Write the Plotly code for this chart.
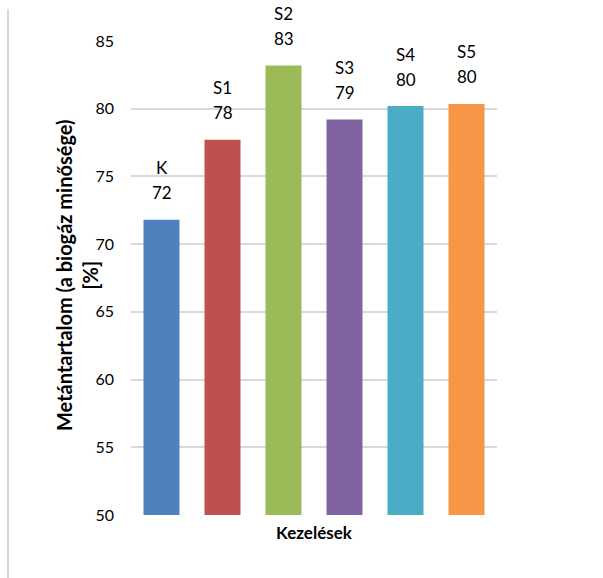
import plotly.graph_objects as go

categories = ["K", "S1", "S2", "S3", "S4", "S5"]
values = [71.8, 77.7, 83.2, 79.2, 80.2, 80.35]
colors = ["#4F81BD", "#C0504D", "#9BBB59", "#8064A2", "#4BACC6", "#F79646"]
y_ticks = [50, 55, 60, 65, 70, 75, 80, 85]

FONT = "Lato, Calibri, Carlito, sans-serif"

fig = go.Figure()
fig.add_trace(go.Bar(
    x=categories, y=values, marker=dict(color=colors, line=dict(width=0)),
    showlegend=False, hoverinfo="skip",
))

for c, v in zip(categories, values):
    fig.add_annotation(
        x=c, y=v, text=f"{round(v):.0f}", showarrow=False,
        yanchor="middle", yshift=27, font=dict(family=FONT, size=17, color="#000000"),
    )
    fig.add_annotation(
        x=c, y=v, text=c, showarrow=False,
        yanchor="middle", yshift=52, font=dict(family=FONT, size=17, color="#000000"),
    )

W, H = 603, 578
L, R, T, B = 131, 497, 41, 515
pw, ph = R - L, B - T

# outer frame (light gray, left edge only visible)
fig.add_shape(type="line", xref="paper", yref="paper",
              x0=(8 - L) / pw, x1=(8 - L) / pw, y0=(B - 9) / ph, y1=(B - 600) / ph,
              line=dict(color="#d9d9d9", width=2))

# y-axis title
fig.add_annotation(
    xref="paper", yref="paper", x=(77 - L) / pw, y=(B - 275) / ph,
    text="<b>Metántartalom (a biogáz minősége)<br>[%]</b>", textangle=-90,
    showarrow=False, xanchor="center", yanchor="middle",
    font=dict(family=FONT, size=20, color="#000000"),
)

fig.update_layout(
    width=W, height=H,
    margin=dict(l=L, r=W - R, t=T, b=H - B, pad=0),
    plot_bgcolor="white", paper_bgcolor="white",
    bargap=0.41,
    font=dict(family=FONT, color="#000000"),
    xaxis=dict(
        showticklabels=False, showgrid=False, zeroline=False, showline=False,
        ticks="",
        title=dict(text="<b>Kezelések</b>", font=dict(family=FONT, size=17), standoff=12),
    ),
    yaxis=dict(
        range=[50, 85], tickvals=y_ticks, showgrid=True, gridcolor="#d9d9d9", gridwidth=1.5,
        zeroline=False, showline=False, ticks="", ticklabelstandoff=16,
        tickfont=dict(family=FONT, size=16, color="#000000"),
    ),
)

fig.write_html("out.html")
